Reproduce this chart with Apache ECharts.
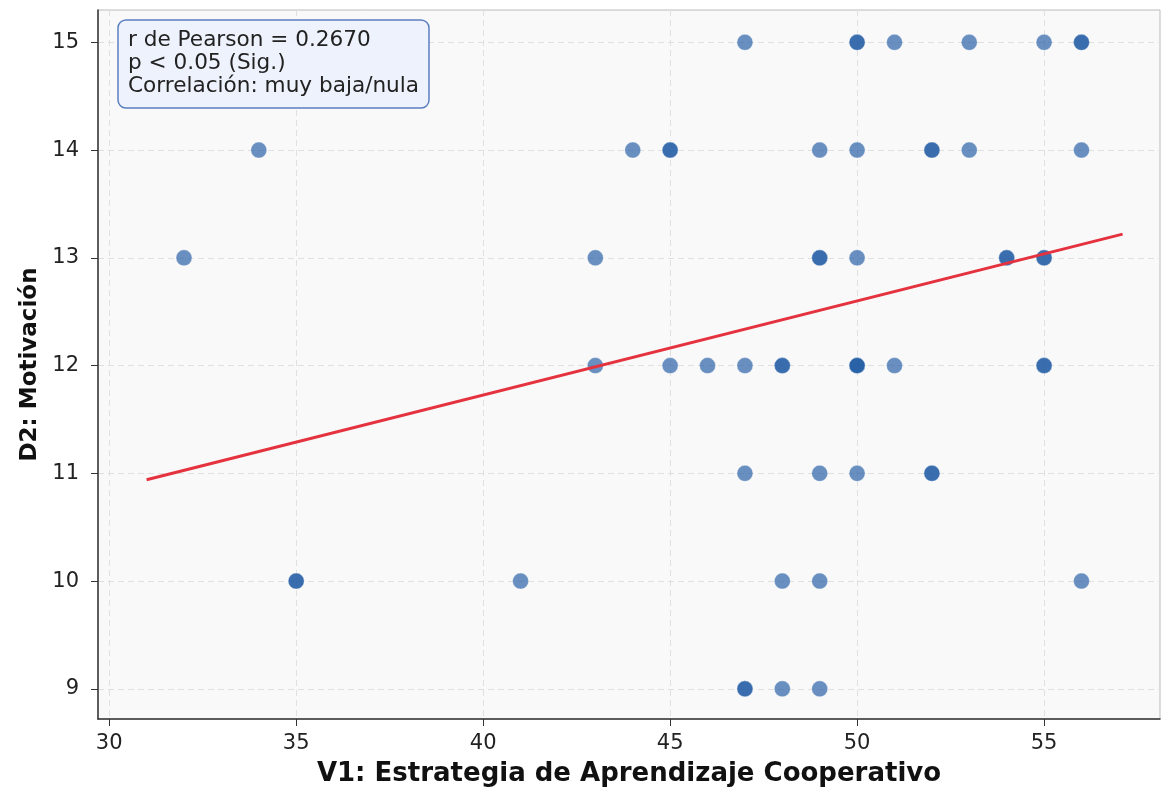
<!DOCTYPE html>
<html lang="es">
<head>
    <meta charset="UTF-8">
    <title>Dispersión V1 vs D2</title>
    <script src="https://cdn.jsdelivr.net/npm/echarts@6/dist/echarts.min.js"></script>
    <style type="text/css">
        body{ margin:0; background:#fff; }
    </style>
</head>
<body>
<div id="main" style="width:1162px;height:792px;"></div>
<script type="text/javascript">
    // puntos (repetidos donde se ven más oscuros = superpuestos)
    var v1 = [47,50,50,51,53,55,56,56,
              34,44,45,45,49,50,52,52,53,56,
              32,43,49,49,50,54,54,55,55,
              43,45,46,47,48,48,50,50,50,51,55,55,
              47,49,50,52,52,
              35,35,41,48,49,56,
              47,47,48,49];
    var d2 = [15,15,15,15,15,15,15,15,
              14,14,14,14,14,14,14,14,14,14,
              13,13,13,13,13,13,13,13,13,
              12,12,12,12,12,12,12,12,12,12,12,12,
              11,11,11,11,11,
              10,10,10,10,10,10,
              9,9,9,9];
    var lineX = [31, 57.1];
    var lineY = [10.94, 13.22];
    var xTicks = [30, 35, 40, 45, 50, 55];
    var yTicks = [9, 10, 11, 12, 13, 14, 15];

    var points = [];
    for (var i = 0; i < v1.length; i++) {
        points.push([v1[i], d2[i]]);
    }
    var fit = [];
    for (var j = 0; j < lineX.length; j++) {
        fit.push([lineX[j], lineY[j]]);
    }

    var font = 'DejaVu Sans';
    var myChart = echarts.init(document.getElementById('main'));
    var option = {
        animation: false,
        title: {
            text: 'r de Pearson = 0.2670\np < 0.05 (Sig.)\nCorrelación: muy baja/nula',
            left: 118,
            top: 20,
            padding: [9, 10, 10, 10],
            backgroundColor: '#eef2fc',
            borderColor: '#5b7fc0',
            borderWidth: 1.5,
            borderRadius: 8,
            textStyle: {
                fontFamily: font,
                fontSize: 21.6,
                fontWeight: 'normal',
                lineHeight: 23,
                color: '#222'
            }
        },
        grid: {
            left: 98, right: 2, top: 10, bottom: 73,
            show: true,
            backgroundColor: '#f9f9f9',
            borderColor: '#bbb',
            borderWidth: 1
        },
        xAxis: {
            type: 'value',
            min: 29.7,
            max: 58.1,
            name: 'V1: Estrategia de Aprendizaje Cooperativo',
            nameLocation: 'middle',
            nameGap: 42,
            nameTextStyle: { fontFamily: font, fontSize: 26, fontWeight: 'bold', color: '#111' },
            axisLine: { show: true, lineStyle: { color: '#333', width: 1.5 } },
            axisTick: { show: true, length: 7, customValues: xTicks, lineStyle: { color: '#333' } },
            axisLabel: { customValues: xTicks, margin: 14, fontFamily: font, fontSize: 21, color: '#222' },
            splitLine: { show: true, lineStyle: { color: '#e0e0e0', type: [6, 4], width: 1 } }
        },
        yAxis: {
            type: 'value',
            min: 8.72,
            max: 15.3,
            name: 'D2: Motivación',
            nameLocation: 'middle',
            nameGap: 54,
            nameRotate: 90,
            nameTextStyle: { fontFamily: font, fontSize: 23, fontWeight: 'bold', color: '#111' },
            axisLine: { show: true, lineStyle: { color: '#333', width: 1.5 } },
            axisTick: { show: true, length: 7, customValues: yTicks, lineStyle: { color: '#333' } },
            axisLabel: { customValues: yTicks, margin: 19, fontFamily: font, fontSize: 21, color: '#222' },
            splitLine: { show: true, lineStyle: { color: '#e0e0e0', type: [6, 4], width: 1 } }
        },
        series: [
            {
                type: 'scatter',
                data: points,
                symbolSize: 16,
                itemStyle: {
                    color: '#245da5',
                    opacity: 0.68,
                    borderColor: '#ffffff',
                    borderWidth: 0.5
                },
                z: 2
            },
            {
                type: 'line',
                data: fit,
                showSymbol: false,
                lineStyle: { color: '#e5323f', width: 3 },
                z: 3
            }
        ]
    };
    myChart.setOption(option);
</script>
</body>
</html>
